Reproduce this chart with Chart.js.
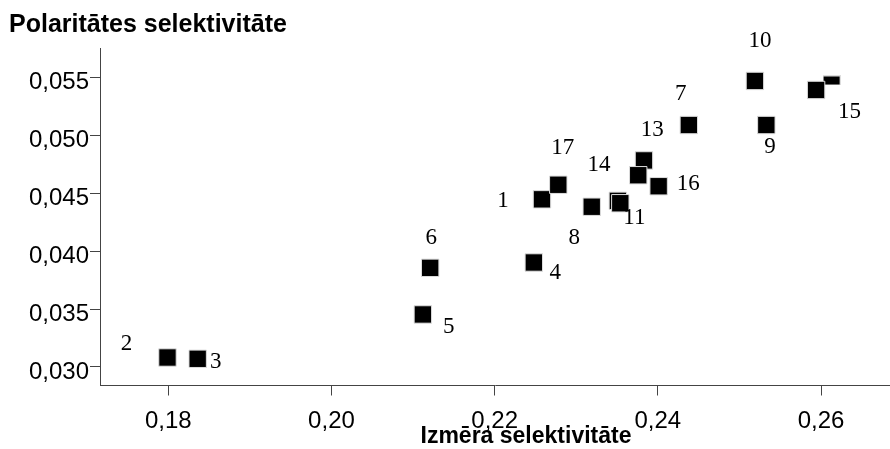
<!DOCTYPE html>
<html>
<head>
<meta charset="utf-8">
<script src="https://cdn.jsdelivr.net/npm/chart.js@4.4.1/dist/chart.umd.min.js"></script>
<style>
  html, body { margin: 0; padding: 0; background: #fff; }
  #wrap { width: 890px; height: 449px; }
</style>
</head>
<body>
<div id="wrap"><canvas id="scatter" width="890" height="449"></canvas></div>
<script>
// values (x = Izmēra selektivitāte, y = Polaritātes selektivitāte)
const pointNames = ["1", "2", "3", "4", "5", "6", "7", "8", "9", "10", "11", "13", "", "14", "", "15", "16", "17"];
const sizeSel = [0.2258, 0.1799, 0.1836, 0.2248, 0.2112, 0.2121, 0.2438, 0.2319, 0.2533, 0.2519, 0.2351, 0.2383, 0.2376, 0.2354, 0.2613, 0.2594, 0.2401, 0.2278];
const polaritySel = [0.04449, 0.03082, 0.03071, 0.03903, 0.03454, 0.03857, 0.05091, 0.04385, 0.05091, 0.05472, 0.04436, 0.04785, 0.04657, 0.04415, 0.05476, 0.05394, 0.04562, 0.04575];
const xTicks = [0.18, 0.20, 0.22, 0.24, 0.26];
const yTicks = [0.030, 0.035, 0.040, 0.045, 0.050, 0.055];

// label placement next to each marker, in pixels
const labelDx = [-39, -41, 18, 21.5, 25.8, 1, -8, -17.4, 3.7, 5, 16.5, 8.2, 0, -21.3, 0, 33.5, 29.7, 4.4];
const labelDy = [2, -13.5, 3, 10, 12.2, -29.5, -31, 31.6, 22, -39.7, 17.5, -30.5, 0, -38.6, 0, 22.3, -2.2, -36.7];

// the marker behind 15 is only partly drawn in the original
const halfMark = document.createElement("canvas");
halfMark.width = 18;
halfMark.height = 10;
(function () {
  const c = halfMark.getContext("2d");
  c.fillStyle = "#000";
  c.fillRect(0.5, 0.5, 17, 9);
  c.strokeStyle = "#ddd";
  c.lineWidth = 1;
  c.strokeRect(0.5, 0.5, 17, 9);
})();

const comma = (v, d) => v.toFixed(d).replace(".", ",");

const textPlugin = {
  id: "textPlugin",
  afterDatasetsDraw(chart) {
    const ctx = chart.ctx;
    const meta = chart.getDatasetMeta(0);
    ctx.save();
    ctx.fillStyle = "#000";
    ctx.font = '23px "Liberation Serif", "Times New Roman", serif';
    ctx.textAlign = "center";
    ctx.textBaseline = "middle";
    meta.data.forEach((pt, i) => {
      if (!pointNames[i]) return;
      ctx.fillText(pointNames[i], pt.x + labelDx[i], pt.y + labelDy[i]);
    });
    ctx.font = 'bold 25px "Liberation Sans", Arial, sans-serif';
    ctx.textAlign = "left";
    ctx.fillText("Polaritātes selektivitāte", 9, 25);
    ctx.font = 'bold 23px "Liberation Sans", Arial, sans-serif';
    ctx.textAlign = "center";
    ctx.fillText("Izmēra selektivitāte", 526, 437);
    ctx.restore();
  }
};

new Chart(document.getElementById("scatter"), {
  type: "scatter",
  data: {
    datasets: [{
      data: sizeSel.map((x, i) => ({ x: x, y: polaritySel[i] })),
      pointStyle: pointNames.map((n, i) => (i === 14 ? halfMark : "rect")),
      pointRadius: 12.3,
      backgroundColor: "#000",
      borderColor: "#ddd",
      borderWidth: 1,
      clip: false
    }]
  },
  plugins: [textPlugin],
  options: {
    responsive: false,
    animation: false,
    events: [],
    layout: { autoPadding: false, padding: { top: 48, right: 0, bottom: 0, left: 0 } },
    plugins: { legend: { display: false }, tooltip: { enabled: false } },
    scales: {
      x: {
        type: "linear",
        min: 0.171629,
        max: 0.268457,
        afterBuildTicks: (s) => { s.ticks = xTicks.map((v) => ({ value: v })); },
        afterFit: (s) => { s.height = 63.5; s.paddingLeft = 0; s.paddingRight = 0; },
        border: { display: true, color: "#444", width: 1 },
        grid: { drawOnChartArea: false, drawTicks: true, tickLength: 10, color: "#444" },
        ticks: {
          color: "#000",
          padding: 11,
          maxRotation: 0,
          font: { family: '"Liberation Sans", Arial, sans-serif', size: 24 },
          callback: (v) => comma(v, 2)
        }
      },
      y: {
        type: "linear",
        min: 0.028401,
        max: 0.057567,
        afterBuildTicks: (s) => { s.ticks = yTicks.map((v) => ({ value: v })); },
        afterFit: (s) => { s.width = 100; s.paddingTop = 0; s.paddingBottom = 0; },
        border: { display: true, color: "#444", width: 1 },
        grid: { drawOnChartArea: false, drawTicks: true, tickLength: 10, color: "#444" },
        ticks: {
          color: "#000",
          padding: 1,
          labelOffset: 5,
          font: { family: '"Liberation Sans", Arial, sans-serif', size: 24 },
          callback: (v) => comma(v, 3)
        }
      }
    }
  }
});
</script>
</body>
</html>
